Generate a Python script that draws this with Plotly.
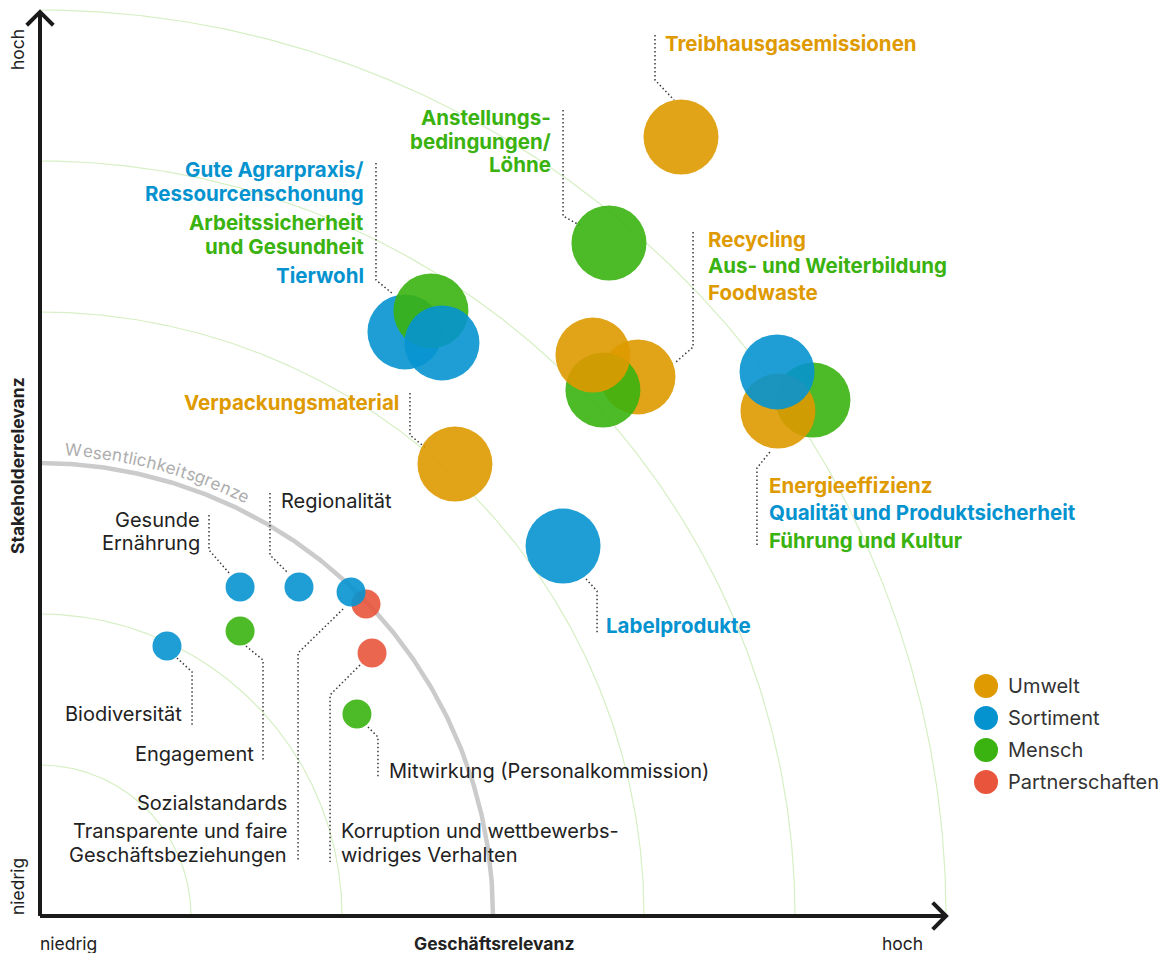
import numpy as np
import plotly.graph_objects as go

# ---------------------------------------------------------------- data
# Topics: (name, group, business relevance, stakeholder relevance, size)
topics = ["Treibhausgasemissionen", "Anstellungsbedingungen/Löhne",
          "Gute Agrarpraxis/Ressourcenschonung", "Arbeitssicherheit und Gesundheit", "Tierwohl",
          "Recycling", "Aus- und Weiterbildung", "Foodwaste",
          "Führung und Kultur", "Energieeffizienz", "Qualität und Produktsicherheit",
          "Verpackungsmaterial", "Labelprodukte",
          "Gesunde Ernährung", "Regionalität", "Transparente und faire Geschäftsbeziehungen",
          "Sozialstandards", "Korruption und wettbewerbswidriges Verhalten",
          "Mitwirkung (Personalkommission)", "Engagement", "Biodiversität"]
groups = ["Umwelt", "Mensch",
          "Sortiment", "Mensch", "Sortiment",
          "Umwelt", "Mensch", "Umwelt",
          "Mensch", "Umwelt", "Sortiment",
          "Umwelt", "Sortiment",
          "Sortiment", "Sortiment", "Partnerschaften",
          "Sortiment", "Partnerschaften",
          "Mensch", "Mensch", "Sortiment"]
geschaeftsrelevanz = [4.245, 3.768,
                      2.417, 2.589, 2.662,
                      3.960, 3.728, 3.662,
                      5.119, 4.887, 4.881,
                      2.748, 3.464,
                      1.325, 1.715, 2.159,
                      2.060, 2.199,
                      2.099, 1.325, 0.841]
stakeholderrelevanz = [5.159, 4.457,
                       3.868, 4.007, 3.795,
                       3.570, 3.483, 3.715,
                       3.417, 3.344, 3.603,
                       2.993, 2.450,
                       2.179, 2.179, 2.066,
                       2.146, 1.742,
                       1.338, 1.887, 1.788]
wesentlich = [True] * 13 + [False] * 8

legend_groups = ["Umwelt", "Sortiment", "Mensch", "Partnerschaften"]
colors = {"Umwelt": "#DE9A00", "Sortiment": "#0593D0",
          "Mensch": "#3AB20F", "Partnerschaften": "#E9553C"}

# ---------------------------------------------------------------- geometry
PX = 151.0                      # pixels per relevance unit
X0, X1 = -40 / PX, 1120 / PX
Y0, Y1 = -37 / PX, 916 / PX
AXIS_END = 6.0
RINGS = [1, 2, 3, 4, 5, 6]
THRESHOLD_RING = 3

FONT = "Inter"
DARK = "#222222"
LEADER = "#3a3a3a"
BOLD_SIZE = 20.5
TEXT_SIZE = 20

fig = go.Figure()

# quarter rings
t = np.linspace(0, np.pi / 2, 300)
for r in RINGS:
    is_limit = r == THRESHOLD_RING
    fig.add_trace(go.Scatter(
        x=r * np.cos(t), y=r * np.sin(t), mode="lines",
        line=dict(color="#CBCBCB" if is_limit else "#D6EFC4", width=4.5 if is_limit else 1.2),
        hoverinfo="skip", showlegend=False))

# leader lines (label -> elbow -> bubble)
leaders = [
    [(4.073, 5.834), (4.073, 5.536), (4.199, 5.404)],
    [(3.464, 5.338), (3.464, 4.636), (3.583, 4.570)],
    [(2.225, 4.987), (2.225, 4.212), (2.338, 4.119)],
    [(4.325, 4.530), (4.325, 3.768), (4.212, 3.669)],
    [(2.450, 3.464), (2.450, 3.185), (2.563, 3.093)],
    [(4.748, 2.457), (4.748, 2.967), (4.834, 3.073)],
    [(3.616, 2.232), (3.689, 2.152), (3.689, 1.868)],
    [(1.119, 2.656), (1.119, 2.424), (1.252, 2.272)],
    [(1.523, 2.801), (1.523, 2.391), (1.642, 2.272)],
    [(2.007, 2.033), (1.709, 1.742), (1.709, 0.358)],
    [(2.119, 1.662), (1.921, 1.464), (1.921, 0.358)],
    [(1.364, 1.788), (1.477, 1.695), (1.477, 1.020)],
    [(0.907, 1.709), (1.007, 1.616), (1.007, 1.265)],
    [(2.172, 1.252), (2.238, 1.185), (2.238, 0.914)],
]
for pts in leaders:
    xs, ys = zip(*pts)
    fig.add_trace(go.Scatter(
        x=xs, y=ys, mode="lines",
        line=dict(color=LEADER, width=1.5, dash="1.5px,2.5px"),
        hoverinfo="skip", showlegend=False))

# bubbles, one trace per topic so stacking follows list order
for name, g, gx, gy, big in zip(topics, groups, geschaeftsrelevanz, stakeholderrelevanz, wesentlich):
    fig.add_trace(go.Scatter(
        x=[gx], y=[gy], mode="markers", name=name,
        marker=dict(size=75 if big else 29, color=colors[g], opacity=0.9, line=dict(width=0)),
        hovertemplate=f"{name}<extra>{g}</extra>", showlegend=False))

# category legend
leg_y = [1.523, 1.311, 1.099, 0.887]
fig.add_trace(go.Scatter(
    x=[6.265] * 4, y=leg_y, mode="markers",
    marker=dict(size=24, color=[colors[g] for g in legend_groups], line=dict(width=0)),
    hoverinfo="skip", showlegend=False, cliponaxis=False))

annotations = []


def label(text, x, y, color, anchor, size=BOLD_SIZE, bold=True, **kw):
    annotations.append(dict(
        text=f"<b>{text}</b>" if bold else text, x=x, y=y, xref="x", yref="y",
        xanchor=anchor, yanchor="middle", showarrow=False,
        font=dict(family=FONT, size=size, color=color), **kw))


for g, y in zip(legend_groups, leg_y):
    label(g, 6.397, y, "#333333", "left", size=TEXT_SIZE, bold=False)

# material topic labels
O, B, G = colors["Umwelt"], colors["Sortiment"], colors["Mensch"]
label("Treibhausgasemissionen", 4.126, 5.775, O, "left")
for txt, y in [("Anstellungs-", 5.285), ("bedingungen/", 5.132), ("Löhne", 4.980)]:
    label(txt, 3.397, y, G, "right")
label("Gute Agrarpraxis/", 2.159, 4.947, B, "right")
label("Ressourcenschonung", 2.159, 4.788, B, "right")
label("Arbeitssicherheit", 2.159, 4.596, G, "right")
label("und Gesundheit", 2.159, 4.437, G, "right")
label("Tierwohl", 2.159, 4.245, B, "right")
label("Recycling", 4.411, 4.477, O, "left")
label("Aus- und Weiterbildung", 4.411, 4.305, G, "left")
label("Foodwaste", 4.411, 4.132, O, "left")
label("Verpackungsmaterial", 2.391, 3.404, O, "right")
label("Energieeffizienz", 4.815, 2.848, O, "left")
label("Qualität und Produktsicherheit", 4.815, 2.675, B, "left")
label("Führung und Kultur", 4.815, 2.490, G, "left")
label("Labelprodukte", 3.735, 1.921, B, "left")

# other topic labels
label("Gesunde", 1.073, 2.623, DARK, "right", TEXT_SIZE, False)
label("Ernährung", 1.073, 2.470, DARK, "right", TEXT_SIZE, False)
label("Regionalität", 1.583, 2.748, DARK, "left", TEXT_SIZE, False)
label("Biodiversität", 0.954, 1.338, DARK, "right", TEXT_SIZE, False)
label("Engagement", 1.430, 1.073, DARK, "right", TEXT_SIZE, False)
label("Sozialstandards", 1.649, 0.748, DARK, "right", TEXT_SIZE, False)
label("Transparente und faire", 1.649, 0.563, DARK, "right", TEXT_SIZE, False)
label("Geschäftsbeziehungen", 1.649, 0.404, DARK, "right", TEXT_SIZE, False)
label("Korruption und wettbewerbs-", 1.980, 0.563, DARK, "left", TEXT_SIZE, False)
label("widriges Verhalten", 1.980, 0.404, DARK, "left", TEXT_SIZE, False)
label("Mitwirkung (Personalkommission)", 2.298, 0.960, DARK, "left", TEXT_SIZE, False)

# axis titles
label("hoch", -0.152, 5.735, DARK, "center", 17.5, False, textangle=-90)
label("Stakeholderrelevanz", -0.152, 2.98, DARK, "center", 17.5, True, textangle=-90)
label("niedrig", -0.152, 0.192, DARK, "center", 17.5, False, textangle=-90)
label("niedrig", 0.192, -0.179, DARK, "center", 17.5, False)
label("Geschäftsrelevanz", 3.007, -0.179, DARK, "center", 17.5, True)
label("hoch", 5.715, -0.179, DARK, "center", 17.5, False)

# curved caption following the threshold ring
caption = "Wesentlichkeitsgrenze"
widths = {"W": .93, "e": .56, "s": .50, "n": .57, "t": .35, "l": .23, "i": .23,
          "c": .54, "h": .57, "k": .52, "g": .58, "r": .36, "z": .50}
w = np.array([widths[c] for c in caption])
centres = np.cumsum(w) - w / 2
a0, a1 = np.radians(4.15), np.radians(25.9)
ang = a0 + (centres - centres[0]) / (centres[-1] - centres[0]) * (a1 - a0)
rad = 467 / PX
for ch, a in zip(caption, ang):
    annotations.append(dict(
        text=ch, x=rad * np.sin(a), y=rad * np.cos(a), xref="x", yref="y",
        xanchor="center", yanchor="middle", showarrow=False, textangle=float(np.degrees(a)),
        font=dict(family=FONT, size=17, color="#ADADAD")))

# axes with chevron heads
shapes = []
axis_line = dict(color="#1A1A1A", width=4)
shapes.append(dict(type="line", xref="x", yref="y", x0=0, y0=0, x1=AXIS_END, y1=0, line=axis_line))
shapes.append(dict(type="line", xref="x", yref="y", x0=0, y0=0, x1=0, y1=AXIS_END - 0.013, line=axis_line))
h = 0.088
shapes.append(dict(type="path", xref="x", yref="y",
                   path=f"M {AXIS_END - h},{h} L {AXIS_END},0 L {AXIS_END - h},{-h}", line=axis_line))
ytip = AXIS_END - 0.013
shapes.append(dict(type="path", xref="x", yref="y",
                   path=f"M {-h},{ytip - h} L 0,{ytip} L {h},{ytip - h}", line=axis_line))

fig.update_layout(
    width=1160, height=953,
    margin=dict(l=0, r=0, t=0, b=0, autoexpand=False),
    paper_bgcolor="white", plot_bgcolor="white",
    xaxis=dict(range=[X0, X1], visible=False, fixedrange=True),
    yaxis=dict(range=[Y0, Y1], visible=False, fixedrange=True),
    annotations=annotations, shapes=shapes,
    font=dict(family=FONT), showlegend=False,
)

fig.write_html("out.html")
